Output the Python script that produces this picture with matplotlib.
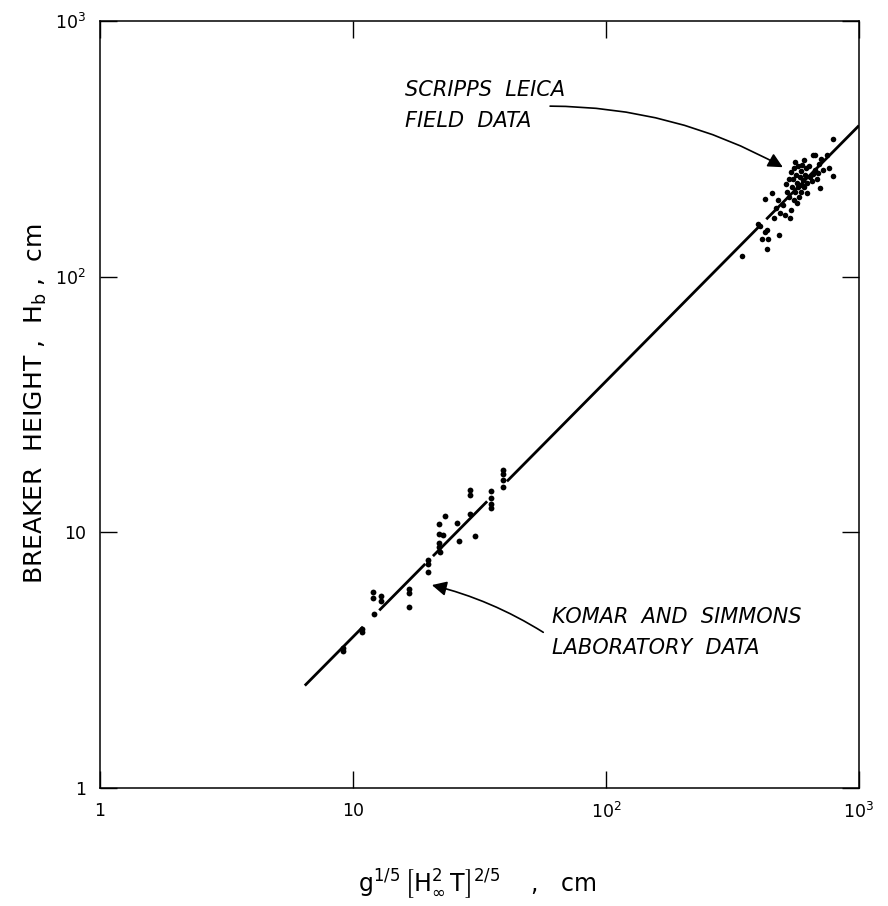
import matplotlib
matplotlib.use("Agg")
import matplotlib.pyplot as plt
from matplotlib.ticker import FixedLocator, FixedFormatter, NullLocator

plt.rcParams['font.family'] = ['DejaVu Sans']
plt.rcParams['mathtext.fontset'] = 'dejavusans'

# ---- data ----
# Komar and Simmons laboratory data
lab_x = [9.16, 9.16, 10.9, 10.9, 12.0, 12.0, 12.15, 12.86, 12.86, 16.7, 16.7, 16.7,
         19.85, 19.85, 19.85, 21.9, 21.9, 21.9, 21.9, 22.1, 22.7, 23.0, 25.7, 26.2,
         28.9, 29.0, 29.0, 30.3, 35.1, 35.1, 35.1, 35.1, 39.3, 39.3, 39.3, 39.3]
lab_y = [3.52, 3.42, 4.17, 4.07, 5.86, 5.55, 4.78, 5.64, 5.39, 5.98, 5.80, 5.09,
         7.77, 7.50, 7.01, 10.8, 9.82, 9.10, 8.78, 8.40, 9.76, 11.6, 10.85, 9.27,
         11.75, 14.6, 14.0, 9.67, 14.5, 13.6, 12.9, 12.4, 17.5, 16.9, 16.0, 15.0]

# Scripps / Leica field data
field_x = [346, 400, 406, 412, 425, 431, 431, 438, 484, 425, 452, 480, 487, 510, 518,
           533, 541, 567, 606, 621, 500, 470, 530, 555, 580, 545, 560, 590, 541, 550,
           555, 565, 570, 575, 583, 588, 593, 600, 612, 620, 633, 642, 656, 660, 670,
           680, 697, 702, 708, 722, 763, 787, 791, 745, 560, 530, 595, 625, 650, 668,
           690, 605, 575, 515, 460]
field_y = [121, 161, 158, 141, 150, 152, 128, 140, 146, 201, 213, 199, 177, 174, 215,
           169, 182, 194, 225, 212, 190, 185, 205, 200, 205, 225, 215, 215, 257, 240,
           265, 250, 232, 270, 245, 260, 273, 238, 250, 265, 271, 245, 253, 299, 299,
           242, 277, 222, 288, 262, 265, 347, 247, 300, 280, 240, 228, 232, 236, 262,
           255, 285, 225, 230, 170]

# fitted relation H_b = coef * g^(1/5) (H^2 T)^(2/5), drawn in pieces (gaps at data)
line_coef = 0.39
line_pieces = [(6.45, 10.95), (12.7, 19.3), (20.7, 33.9), (40.6, 405.0), (430.0, 1000.0)]

x_ticks = [1, 10, 100, 1000]
x_ticklabels = ['1', '10', r'$\mathregular{10^2}$', r'$\mathregular{10^3}$']
y_ticks = [1, 10, 100, 1000]
y_ticklabels = ['1', '10', r'$\mathregular{10^2}$', r'$\mathregular{10^3}$']

# ---- figure ----
fig = plt.figure(figsize=(8.88, 9.06), dpi=100)
ax = fig.add_axes([100/888, 118/906, 759/888, 767/906])
ax.set_xscale('log')
ax.set_yscale('log')
ax.set_xlim(1, 1000)
ax.set_ylim(1, 1000)

for a, b in line_pieces:
    ax.plot([a, b], [line_coef*a, line_coef*b], color='black', lw=2.0,
            solid_capstyle='butt', zorder=2)

ax.plot(lab_x, lab_y, 'o', color='black', ms=4.2, mec='none', zorder=3)
ax.plot(field_x, field_y, 'o', color='black', ms=4.0, mec='none', zorder=3)

for spine in ax.spines.values():
    spine.set_linewidth(1.1)

ax.xaxis.set_major_locator(FixedLocator(x_ticks))
ax.xaxis.set_major_formatter(FixedFormatter(x_ticklabels))
ax.yaxis.set_major_locator(FixedLocator(y_ticks))
ax.yaxis.set_major_formatter(FixedFormatter(y_ticklabels))
ax.xaxis.set_minor_locator(NullLocator())
ax.yaxis.set_minor_locator(NullLocator())
ax.tick_params(which='major', direction='in', length=12, width=1.0,
               top=True, right=True, labelsize=12.5, pad=10)

fig.text(36/888, 1 - 404/906, r'BREAKER  HEIGHT ,  H$_\mathregular{b}$ ,  cm',
         rotation=90, ha='center', va='center', fontsize=18)
fig.text(477/888, 1 - 884/906,
         r'$\mathregular{g^{1/5}\,\left[H^2_\infty\,T\right]^{2/5}}$    ,   cm',
         ha='center', va='center', fontsize=17)

# annotations
tfs = 15
ax.text(0.402, 0.910, 'SCRIPPS  LEICA', transform=ax.transAxes, fontsize=tfs,
        style='italic', ha='left', va='center')
ax.text(0.402, 0.8696, 'FIELD  DATA', transform=ax.transAxes, fontsize=tfs,
        style='italic', ha='left', va='center')
ax.annotate('', xy=(500, 268), xycoords='data',
            xytext=(0.593, 0.889), textcoords='axes fraction',
            arrowprops=dict(arrowstyle='-|>', color='black', lw=1.2,
                            mutation_scale=22, shrinkA=0, shrinkB=0,
                            connectionstyle='arc3,rad=-0.13'))

ax.text(0.5955, 0.223, 'KOMAR  AND  SIMMONS', transform=ax.transAxes, fontsize=tfs,
        style='italic', ha='left', va='center')
ax.text(0.5955, 0.1825, 'LABORATORY  DATA', transform=ax.transAxes, fontsize=tfs,
        style='italic', ha='left', va='center')
ax.annotate('', xy=(20.5, 6.22), xycoords='data',
            xytext=(0.584, 0.203), textcoords='axes fraction',
            arrowprops=dict(arrowstyle='-|>', color='black', lw=1.2,
                            mutation_scale=22, shrinkA=0, shrinkB=0,
                            connectionstyle='arc3,rad=0.08'))

fig.savefig('out.png', dpi=100)
